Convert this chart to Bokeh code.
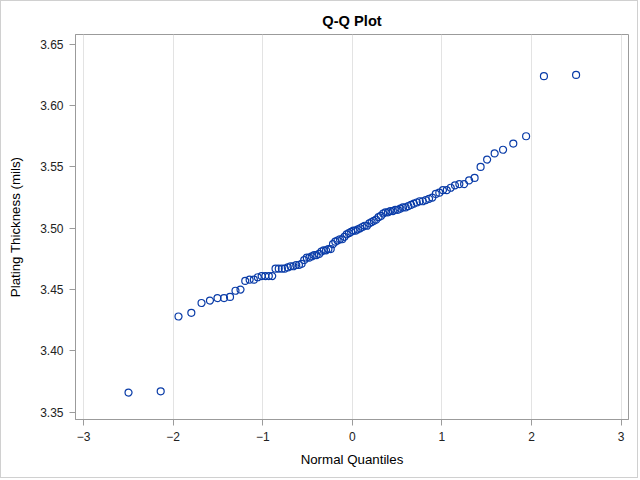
from bokeh.plotting import figure
from bokeh.models import FixedTicker, PrintfTickFormatter, Range1d, ColumnDataSource
from bokeh.embed import file_html
from bokeh.resources import INLINE

normal_quantiles = [
    -2.498, -2.139, -1.940, -1.797, -1.683, -1.589, -1.505, -1.432, -1.365, -1.304,
    -1.248, -1.195, -1.146, -1.099, -1.055, -1.012, -0.971, -0.932, -0.894, -0.857,
    -0.821, -0.786, -0.753, -0.720, -0.688, -0.657, -0.626, -0.596, -0.566, -0.537,
    -0.508, -0.480, -0.453, -0.425, -0.398, -0.371, -0.345, -0.319, -0.293, -0.267,
    -0.241, -0.216, -0.190, -0.165, -0.138, -0.113, -0.088, -0.063, -0.038, -0.013,
    0.013, 0.038, 0.063, 0.088, 0.113, 0.138, 0.165, 0.190, 0.216, 0.241,
    0.267, 0.293, 0.319, 0.345, 0.371, 0.398, 0.425, 0.453, 0.480, 0.508,
    0.537, 0.566, 0.596, 0.626, 0.657, 0.688, 0.720, 0.753, 0.786, 0.821,
    0.857, 0.894, 0.932, 0.971, 1.012, 1.055, 1.099, 1.146, 1.195, 1.248,
    1.304, 1.365, 1.432, 1.505, 1.589, 1.683, 1.797, 1.940, 2.139, 2.498,
]

thickness = [
    3.366, 3.367, 3.428, 3.431, 3.439, 3.441, 3.443, 3.443, 3.444, 3.449,
    3.450, 3.457, 3.458, 3.458, 3.460, 3.461, 3.461, 3.461, 3.461, 3.467,
    3.467, 3.467, 3.467, 3.468, 3.469, 3.469, 3.470, 3.470, 3.471, 3.474,
    3.476, 3.476, 3.477, 3.478, 3.478, 3.479, 3.481, 3.482, 3.482, 3.483,
    3.483, 3.487, 3.489, 3.490, 3.491, 3.491, 3.493, 3.495, 3.496, 3.497,
    3.498, 3.498, 3.499, 3.500, 3.501, 3.502, 3.502, 3.504, 3.505, 3.506,
    3.507, 3.509, 3.510, 3.512, 3.513, 3.513, 3.514, 3.514, 3.515, 3.515,
    3.516, 3.517, 3.517, 3.518, 3.519, 3.520, 3.521, 3.522, 3.522, 3.523,
    3.524, 3.525, 3.528, 3.529, 3.531, 3.531, 3.533, 3.535, 3.536, 3.536,
    3.539, 3.541, 3.550, 3.556, 3.561, 3.564, 3.569, 3.575, 3.624, 3.625,
]

x_ticks = [-3, -2, -1, 0, 1, 2, 3]
y_ticks = [3.35, 3.40, 3.45, 3.50, 3.55, 3.60, 3.65]

FONT = "Liberation Sans"
GREY = "#9b9b9b"

src = ColumnDataSource(data=dict(x=normal_quantiles, y=thickness))

p = figure(width=638, height=478, output_backend="svg", toolbar_location=None,
           x_range=Range1d(-3.09, 3.083), y_range=Range1d(3.344, 3.658),
           title="Q-Q Plot",
           min_border_left=74, min_border_right=11, min_border_top=33, min_border_bottom=60)
p.styles = {"border": "1px solid #d0d0d0"}

p.title.align = "center"
p.title.text_font = FONT
p.title.text_font_size = "14.67px"
p.title.text_font_style = "bold"
p.title.text_color = "#000000"
p.title.standoff = 12

p.outline_line_color = GREY
p.outline_line_width = 1
p.background_fill_color = "white"
p.border_fill_color = "white"

p.scatter("x", "y", source=src, size=7, marker="circle", fill_color=None,
          line_color="#0a3ca8", line_width=1.2)

p.xaxis.ticker = FixedTicker(ticks=x_ticks)
p.yaxis.ticker = FixedTicker(ticks=y_ticks)
p.yaxis.formatter = PrintfTickFormatter(format="%.2f")
p.xaxis.axis_label = "Normal Quantiles"
p.yaxis.axis_label = "Plating Thickness (mils)"

for ax in (p.xaxis[0], p.yaxis[0]):
    ax.axis_line_color = GREY
    ax.major_tick_line_color = GREY
    ax.major_tick_out = 6
    ax.major_tick_in = 0
    ax.minor_tick_line_color = None
    ax.major_label_text_font = FONT
    ax.major_label_text_font_size = "12px"
    ax.major_label_text_color = "#222222"
    ax.axis_label_text_font = FONT
    ax.axis_label_text_font_size = "13.3px"
    ax.axis_label_text_font_style = "normal"
    ax.axis_label_text_color = "#000000"
    ax.major_label_standoff = 6

p.xaxis.axis_label_standoff = 8
p.yaxis.axis_label_standoff = 14

p.xgrid.grid_line_color = "#e3e3e3"
p.ygrid.grid_line_color = None

open("out.html", "w").write(file_html(p, INLINE))
